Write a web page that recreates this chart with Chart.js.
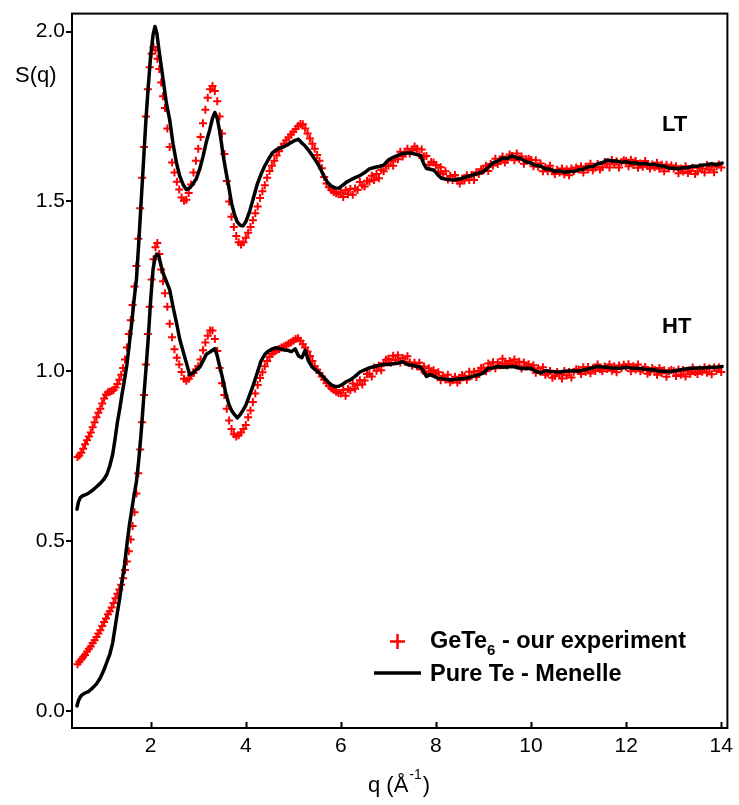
<!DOCTYPE html>
<html>
<head>
<meta charset="utf-8">
<title>S(q) – GeTe6 and pure Te</title>
<script src="https://cdn.jsdelivr.net/npm/chart.js@4.4.1/dist/chart.umd.min.js"></script>
<style>
  html, body { margin: 0; padding: 0; background: #fff; }
  canvas { display: block; }
</style>
</head>
<body>
<canvas id="sq" width="739" height="805"></canvas>
<script>
// ---- measured structure factors -------------------------------------------
// GeTe6 (our experiment): q grid shared by the LT (shifted by +0.6) and HT sets
const qExp = [
  0.46,0.50,0.54,0.58,0.62,0.66,0.70,0.74,0.78,0.82,
  0.86,0.90,0.94,0.98,1.02,1.06,1.10,1.14,1.18,1.22,
  1.26,1.30,1.34,1.38,1.42,1.46,1.50,1.54,1.58,1.62,
  1.66,1.70,1.74,1.78,1.82,1.86,1.90,1.94,1.98,2.02,
  2.06,2.10,2.14,2.18,2.22,2.26,2.30,2.35,2.40,2.45,
  2.50,2.55,2.60,2.65,2.70,2.75,2.80,2.85,2.90,2.95,
  3.00,3.05,3.10,3.15,3.20,3.25,3.30,3.35,3.40,3.45,
  3.50,3.55,3.60,3.65,3.70,3.75,3.80,3.85,3.90,3.95,
  4.00,4.05,4.10,4.15,4.20,4.25,4.30,4.35,4.40,4.45,
  4.50,4.55,4.60,4.65,4.70,4.75,4.80,4.85,4.90,4.95,
  5.00,5.05,5.10,5.15,5.20,5.25,5.30,5.35,5.40,5.45,
  5.50,5.55,5.60,5.65,5.70,5.75,5.80,5.85,5.90,5.95,
  6.00,6.05,6.10,6.15,6.20,6.25,6.30,6.35,6.40,6.45,
  6.50,6.55,6.60,6.65,6.70,6.75,6.80,6.85,6.90,6.95,
  7.00,7.05,7.10,7.15,7.20,7.25,7.30,7.35,7.40,7.45,
  7.50,7.55,7.60,7.65,7.70,7.75,7.80,7.85,7.90,7.95,
  8.00,8.05,8.10,8.15,8.20,8.25,8.30,8.35,8.40,8.45,
  8.50,8.55,8.60,8.65,8.70,8.75,8.80,8.85,8.90,8.95,
  9.00,9.05,9.10,9.15,9.20,9.25,9.30,9.35,9.40,9.45,
  9.50,9.55,9.60,9.65,9.70,9.75,9.80,9.85,9.90,9.95,
  10.00,10.05,10.10,10.15,10.20,10.25,10.30,10.35,10.40,10.45,
  10.50,10.55,10.60,10.65,10.70,10.75,10.80,10.85,10.90,10.95,
  11.00,11.05,11.10,11.15,11.20,11.25,11.30,11.35,11.40,11.45,
  11.50,11.55,11.60,11.65,11.70,11.75,11.80,11.85,11.90,11.95,
  12.00,12.05,12.10,12.15,12.20,12.25,12.30,12.35,12.40,12.45,
  12.50,12.55,12.60,12.65,12.70,12.75,12.80,12.85,12.90,12.95,
  13.00,13.05,13.10,13.15,13.20,13.25,13.30,13.35,13.40,13.45,
  13.50,13.55,13.60,13.65,13.70,13.75,13.80,13.85,13.90,13.95,
  14.00
];
const sExpLT = [
  0.748,0.752,0.760,0.772,0.785,0.797,0.808,0.820,0.835,0.850,
  0.865,0.878,0.890,0.905,0.920,0.932,0.938,0.940,0.942,0.945,
  0.952,0.963,0.975,0.990,1.010,1.035,1.070,1.110,1.150,1.195,
  1.250,1.310,1.390,1.480,1.570,1.660,1.750,1.830,1.895,1.935,
  1.955,1.945,1.920,1.890,1.850,1.810,1.775,1.715,1.660,1.615,
  1.585,1.558,1.535,1.512,1.502,1.505,1.525,1.550,1.585,1.620,
  1.655,1.690,1.730,1.770,1.805,1.830,1.840,1.825,1.795,1.750,
  1.700,1.640,1.560,1.500,1.455,1.425,1.398,1.380,1.373,1.380,
  1.393,1.408,1.425,1.445,1.465,1.485,1.510,1.530,1.548,1.570,
  1.590,1.605,1.620,1.635,1.648,1.660,1.670,1.680,1.688,1.697,
  1.705,1.713,1.722,1.728,1.727,1.715,1.700,1.685,1.670,1.655,
  1.637,1.620,1.598,1.572,1.553,1.542,1.534,1.528,1.524,1.521,
  1.527,1.513,1.533,1.521,1.537,1.520,1.538,1.534,1.557,1.547,
  1.544,1.561,1.559,1.576,1.563,1.581,1.568,1.593,1.589,1.605,
  1.605,1.619,1.605,1.626,1.624,1.646,1.632,1.642,1.655,1.641,
  1.650,1.662,1.655,1.637,1.653,1.632,1.634,1.608,1.616,1.615,
  1.607,1.587,1.601,1.581,1.589,1.565,1.575,1.563,1.578,1.562,
  1.553,1.567,1.562,1.577,1.563,1.578,1.563,1.586,1.581,1.595,
  1.592,1.605,1.590,1.610,1.606,1.626,1.610,1.619,1.632,1.615,
  1.623,1.638,1.634,1.621,1.641,1.625,1.632,1.611,1.624,1.626,
  1.622,1.604,1.621,1.602,1.612,1.589,1.601,1.589,1.605,1.589,
  1.581,1.593,1.585,1.597,1.580,1.594,1.577,1.597,1.589,1.600,
  1.594,1.604,1.585,1.602,1.594,1.611,1.592,1.600,1.610,1.594,
  1.601,1.616,1.612,1.600,1.622,1.609,1.618,1.600,1.616,1.621,
  1.619,1.604,1.623,1.607,1.619,1.599,1.612,1.602,1.619,1.605,
  1.597,1.609,1.601,1.614,1.596,1.608,1.589,1.608,1.597,1.606,
  1.597,1.604,1.583,1.597,1.588,1.604,1.584,1.590,1.599,1.581,
  1.588,1.601,1.597,1.585,1.607,1.593,1.603,1.586,1.603,1.609,
  1.600
];
const sExpHT = [
  0.138,0.145,0.152,0.160,0.165,0.175,0.183,0.190,0.200,0.208,
  0.218,0.228,0.238,0.250,0.262,0.272,0.285,0.294,0.305,0.318,
  0.332,0.345,0.358,0.372,0.391,0.415,0.440,0.470,0.505,0.545,
  0.585,0.640,0.700,0.770,0.850,0.930,1.020,1.110,1.190,1.270,
  1.330,1.365,1.378,1.345,1.300,1.265,1.230,1.190,1.140,1.100,
  1.065,1.040,1.020,0.998,0.978,0.972,0.978,0.988,0.995,1.005,
  1.015,1.035,1.062,1.085,1.105,1.120,1.120,1.095,1.060,1.010,
  0.965,0.930,0.890,0.855,0.830,0.815,0.808,0.812,0.820,0.830,
  0.842,0.865,0.885,0.910,0.935,0.960,0.980,0.997,1.015,1.030,
  1.043,1.052,1.058,1.062,1.066,1.070,1.073,1.077,1.082,1.085,
  1.090,1.095,1.097,1.090,1.080,1.070,1.058,1.045,1.030,1.015,
  1.005,0.995,0.985,0.975,0.965,0.957,0.950,0.945,0.940,0.936,
  0.935,0.945,0.928,0.948,0.944,0.964,0.949,0.960,0.974,0.961,
  0.973,0.992,0.993,0.985,1.011,1.002,1.016,1.003,1.024,1.034,
  1.037,1.025,1.046,1.033,1.047,1.026,1.039,1.028,1.044,1.026,
  1.016,1.025,1.015,1.025,1.005,1.014,0.992,1.009,0.997,1.003,
  0.992,0.997,0.974,0.987,0.976,0.990,0.968,0.974,0.984,0.967,
  0.974,0.989,0.986,0.975,0.999,0.987,0.999,0.983,1.002,1.010,
  1.011,1.000,1.023,1.011,1.027,1.009,1.026,1.018,1.037,1.023,
  1.017,1.030,1.022,1.035,1.017,1.028,1.008,1.026,1.014,1.021,
  1.012,1.018,0.996,1.009,0.999,1.012,0.990,0.994,1.001,0.981,
  0.986,0.998,0.992,0.979,1.001,0.988,0.998,0.982,0.999,1.006,
  1.005,0.992,1.012,0.999,1.013,0.994,1.009,1.001,1.020,1.006,
  1.000,1.014,1.007,1.020,1.002,1.015,0.997,1.017,1.009,1.019,
  1.013,1.021,1.000,1.015,1.005,1.020,1.000,1.005,1.013,0.993,
  0.998,1.010,1.004,0.990,1.010,0.995,1.003,0.984,1.000,1.004,
  1.001,0.986,1.005,0.990,1.004,0.985,1.000,0.992,1.011,0.998,
  0.992,1.005,0.999,1.012,0.996,1.009,0.991,1.011,1.002,1.012,
  0.998
];

// Pure Te (Menelle): q grid shared by the LT (shifted by +0.6) and HT curves
const qRef = [
  0.45,0.48,0.52,0.56,0.62,0.70,0.78,0.86,0.94,1.02,
  1.08,1.14,1.20,1.25,1.30,1.35,1.40,1.45,1.50,1.55,
  1.60,1.65,1.70,1.75,1.80,1.85,1.90,1.95,2.00,2.05,
  2.09,2.13,2.17,2.22,2.27,2.33,2.40,2.47,2.54,2.61,
  2.68,2.75,2.82,2.89,2.96,3.03,3.10,3.17,3.24,3.30,
  3.35,3.40,3.46,3.52,3.58,3.64,3.70,3.76,3.82,3.88,
  3.94,4.00,4.08,4.16,4.24,4.32,4.40,4.48,4.56,4.64,
  4.72,4.80,4.88,4.96,5.04,5.11,5.18,5.25,5.32,5.40,
  5.48,5.56,5.64,5.72,5.80,5.88,5.96,6.04,6.12,6.20,
  6.30,6.40,6.50,6.60,6.70,6.80,6.90,7.00,7.10,7.20,
  7.30,7.40,7.50,7.60,7.68,7.74,7.80,7.88,7.96,8.04,
  8.12,8.20,8.30,8.40,8.50,8.60,8.70,8.80,8.90,9.00,
  9.10,9.20,9.30,9.40,9.50,9.60,9.70,9.80,9.90,10.00,
  10.10,10.20,10.30,10.40,10.50,10.60,10.70,10.80,10.90,11.00,
  11.10,11.20,11.30,11.40,11.50,11.60,11.70,11.80,11.90,12.00,
  12.10,12.20,12.30,12.40,12.50,12.60,12.70,12.80,12.90,13.00,
  13.10,13.20,13.30,13.40,13.50,13.60,13.70,13.80,13.90,14.02
];
const sRefLT = [
  0.594,0.615,0.628,0.633,0.636,0.642,0.650,0.660,0.670,0.683,
  0.697,0.722,0.755,0.800,0.850,0.890,0.935,0.975,1.020,1.080,
  1.140,1.210,1.270,1.380,1.500,1.620,1.740,1.840,1.930,1.990,
  2.015,1.995,1.950,1.900,1.850,1.790,1.740,1.670,1.615,1.575,
  1.550,1.535,1.540,1.552,1.567,1.595,1.632,1.675,1.710,1.745,
  1.762,1.745,1.700,1.640,1.590,1.545,1.495,1.463,1.440,1.430,
  1.428,1.440,1.470,1.510,1.550,1.580,1.605,1.625,1.643,1.652,
  1.657,1.661,1.667,1.674,1.680,1.683,1.672,1.663,1.651,1.635,
  1.618,1.600,1.575,1.556,1.545,1.540,1.539,1.548,1.557,1.563,
  1.570,1.576,1.585,1.596,1.600,1.603,1.607,1.622,1.630,1.636,
  1.641,1.643,1.642,1.638,1.634,1.612,1.597,1.595,1.592,1.578,
  1.568,1.566,1.564,1.563,1.566,1.571,1.575,1.579,1.583,1.588,
  1.600,1.614,1.619,1.628,1.627,1.634,1.628,1.625,1.616,1.613,
  1.606,1.604,1.596,1.595,1.588,1.590,1.586,1.588,1.588,1.593,
  1.595,1.602,1.603,1.611,1.614,1.622,1.619,1.619,1.615,1.617,
  1.613,1.614,1.610,1.612,1.609,1.609,1.605,1.604,1.598,1.598,
  1.596,1.599,1.600,1.604,1.604,1.607,1.608,1.611,1.608,1.613
];
const sRefHT = [
  0.015,0.030,0.042,0.048,0.053,0.058,0.068,0.080,0.097,0.122,
  0.145,0.167,0.200,0.245,0.290,0.333,0.385,0.430,0.490,0.545,
  0.590,0.635,0.675,0.740,0.820,0.915,1.005,1.100,1.210,1.300,
  1.335,1.345,1.340,1.310,1.285,1.265,1.240,1.190,1.145,1.095,
  1.060,1.025,0.990,0.995,1.005,1.012,1.030,1.050,1.056,1.062,
  1.067,1.045,1.010,0.975,0.935,0.905,0.885,0.873,0.863,0.872,
  0.885,0.900,0.930,0.960,0.995,1.030,1.050,1.060,1.066,1.070,
  1.066,1.063,1.062,1.058,1.066,1.045,1.040,1.062,1.030,1.012,
  1.003,0.994,0.982,0.970,0.960,0.955,0.956,0.962,0.970,0.975,
  0.985,0.998,1.004,1.010,1.014,1.018,1.020,1.020,1.022,1.024,
  1.028,1.020,1.018,1.014,1.012,1.000,0.985,0.990,0.985,0.980,
  0.978,0.977,0.975,0.976,0.978,0.979,0.982,0.986,0.990,0.995,
  1.009,1.010,1.014,1.012,1.013,1.014,1.012,1.008,1.009,1.008,
  1.000,0.995,1.002,1.000,0.999,0.998,1.000,1.001,1.002,1.000,
  1.004,1.007,1.011,1.014,1.013,1.012,1.010,1.009,1.010,1.012,
  1.010,1.009,1.008,1.006,1.005,1.004,1.001,1.000,0.999,1.001,
  1.003,1.006,1.008,1.009,1.010,1.010,1.011,1.012,1.012,1.014
];

// axis ticks
const xTicks = [2, 4, 6, 8, 10, 12, 14];
const yTicks = [0.0, 0.5, 1.0, 1.5, 2.0];

// ---- chart -----------------------------------------------------------------
const FONT = '"Liberation Sans", Arial, Helvetica, sans-serif';
const RED = '#ff0000';
const BLACK = '#000000';

const pairs = (qs, ss) => qs.map((q, i) => ({ x: q, y: ss[i] }));

const expStyle = {
  showLine: false,
  pointStyle: 'cross',
  pointRadius: 4,
  pointBorderWidth: 2,
  pointBorderColor: RED,
  pointBackgroundColor: RED,
  borderColor: RED,
  order: 2
};
const refStyle = {
  showLine: true,
  pointRadius: 0,
  borderColor: BLACK,
  borderWidth: 3.5,
  borderJoinStyle: 'round',
  borderCapStyle: 'round',
  tension: 0,
  order: 1
};

// frame, inward x ticks, annotations and legend
const decorations = {
  id: 'decorations',
  afterDraw(chart) {
    const { ctx, chartArea: a, scales: { x } } = chart;
    ctx.save();
    ctx.strokeStyle = BLACK;
    ctx.lineWidth = 2;
    ctx.strokeRect(a.left, a.top, a.right - a.left, a.bottom - a.top);

    ctx.beginPath();
    xTicks.forEach(v => {
      const px = Math.round(x.getPixelForValue(v)) + 0.5;
      ctx.moveTo(px, a.bottom);
      ctx.lineTo(px, a.bottom - 6);
    });
    ctx.lineWidth = 2;
    ctx.stroke();

    ctx.fillStyle = BLACK;
    ctx.textBaseline = 'alphabetic';
    ctx.textAlign = 'left';

    // y axis label
    ctx.font = '22px ' + FONT;
    ctx.fillText('S(q)', 15, 82);

    // x axis label with superscript
    let tx = 368;
    const base = 792;
    ctx.font = '22px ' + FONT;
    ctx.fillText('q (Å', tx, base);
    tx += ctx.measureText('q (Å').width + 1;
    ctx.font = '14px ' + FONT;
    ctx.fillText('-1', tx, base - 13);
    tx += ctx.measureText('-1').width + 1;
    ctx.font = '22px ' + FONT;
    ctx.fillText(')', tx, base);

    // curve labels
    ctx.font = 'bold 22px ' + FONT;
    ctx.fillText('LT', 662, 131);
    ctx.fillText('HT', 662, 333);

    // legend
    ctx.strokeStyle = RED;
    ctx.lineWidth = 2.5;
    ctx.beginPath();
    ctx.moveTo(390, 641.5); ctx.lineTo(405, 641.5);
    ctx.moveTo(397.5, 634); ctx.lineTo(397.5, 649);
    ctx.stroke();

    ctx.strokeStyle = BLACK;
    ctx.lineWidth = 3.5;
    ctx.beginPath();
    ctx.moveTo(374, 673); ctx.lineTo(421, 673);
    ctx.stroke();

    let lx = 430;
    ctx.font = 'bold 23.5px ' + FONT;
    ctx.fillText('GeTe', lx, 648);
    lx += ctx.measureText('GeTe').width;
    ctx.font = 'bold 15px ' + FONT;
    ctx.fillText('6', lx, 655);
    lx += ctx.measureText('6').width;
    ctx.font = 'bold 23.5px ' + FONT;
    ctx.fillText(' - our experiment', lx, 648);
    ctx.fillText('Pure Te - Menelle', 430, 681);
    ctx.restore();
  }
};

new Chart(document.getElementById('sq'), {
  type: 'scatter',
  data: {
    datasets: [
      { label: 'Pure Te - Menelle (LT)', data: pairs(qRef, sRefLT), ...refStyle },
      { label: 'Pure Te - Menelle (HT)', data: pairs(qRef, sRefHT), ...refStyle },
      { label: 'GeTe6 - our experiment (LT)', data: pairs(qExp, sExpLT), ...expStyle },
      { label: 'GeTe6 - our experiment (HT)', data: pairs(qExp, sExpHT), ...expStyle }
    ]
  },
  options: {
    responsive: false,
    animation: false,
    devicePixelRatio: 1,
    layout: { padding: { left: 0, top: 7, right: 11, bottom: 0 } },
    plugins: { legend: { display: false }, tooltip: { enabled: false } },
    scales: {
      x: {
        type: 'linear',
        min: 0.345,
        max: 14.13,
        afterBuildTicks: s => { s.ticks = xTicks.map(v => ({ value: v })); },
        afterFit: s => { s.height = 77; },
        grid: { display: false, drawTicks: false },
        border: { display: false },
        ticks: {
          color: BLACK,
          padding: 6,
          maxRotation: 0,
          font: { family: FONT, size: 21 },
          callback: v => String(v)
        }
      },
      y: {
        type: 'linear',
        min: -0.050,
        max: 2.053,
        afterBuildTicks: s => { s.ticks = yTicks.map(v => ({ value: v })); },
        afterFit: s => { s.width = 72; },
        grid: { display: true, drawOnChartArea: false, drawTicks: true, tickLength: 6, color: BLACK, lineWidth: 2 },
        border: { display: false },
        ticks: {
          color: BLACK,
          padding: 1,
          font: { family: FONT, size: 21 },
          callback: v => v.toFixed(1)
        }
      }
    }
  },
  plugins: [decorations]
});
</script>
</body>
</html>
